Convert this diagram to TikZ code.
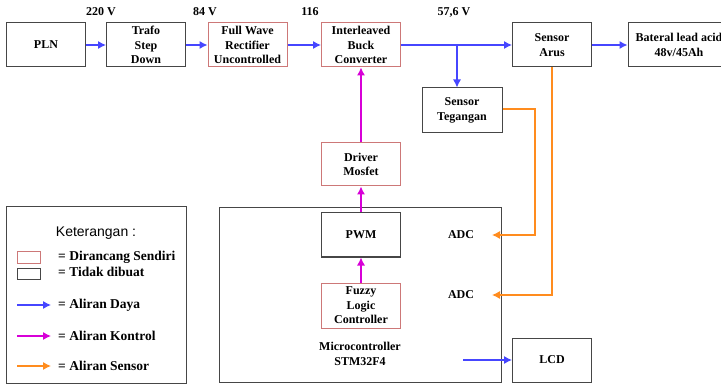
\documentclass[tikz,border=0pt]{standalone}
\usepackage{fontspec}
\setmainfont{Liberation Serif}
\newfontfamily\serifb{Liberation Serif}
\newfontfamily\legsans{Liberation Sans}
\usetikzlibrary{arrows.meta}
\definecolor{boxgray}{RGB}{70,70,70}
\definecolor{boxred}{RGB}{205,120,120}
\definecolor{flowblue}{RGB}{70,70,255}
\definecolor{flowmag}{RGB}{215,0,215}
\definecolor{flowor}{RGB}{255,140,30}
\tikzset{
  blk/.style={draw=boxgray, line width=1pt, minimum width=79pt, minimum height=44pt, inner sep=1pt, align=center, font=\serifb\fontsize{12}{14.5}\selectfont\bfseries},
  redblk/.style={blk, draw=boxred},
  lbl/.style={font=\serifb\fontsize{12}{14}\selectfont\bfseries, inner sep=0pt},
  leglbl/.style={font=\serifb\fontsize{13.5}{15}\selectfont\bfseries, inner sep=0pt, anchor=west},
  tipx/.style={-{Latex[length=8pt,width=8pt]}, line width=1.1pt},
  pow/.style={tipx, draw=flowblue},
  ctl/.style={tipx, draw=flowmag},
  sen/.style={tipx, draw=flowor},
}
\begin{document}
\begin{tikzpicture}[x=1pt,y=-1pt]
\useasboundingbox (0,0) rectangle (721,385);
% top row
\node[blk] (pln) at (46,45) {PLN};
\node[blk] (trafo) at (146,45) {Trafo\\Step\\Down};
\node[redblk] (fwr) at (247.5,45) {Full Wave\\Rectifier\\Uncontrolled};
\node[redblk] (buck) at (361,45) {Interleaved\\Buck\\Converter};
\node[blk] (arus) at (552,45) {Sensor\\Arus};
\node[blk, minimum width=102pt] (bat) at (679,45) {Bateral lead acid\\48v/45Ah};
\node[blk, minimum width=80pt, minimum height=45pt] (teg) at (462,110.5) {Sensor\\Tegangan};
% voltage labels
\node[lbl] (v1) at (101,12) {220 V};
\node[lbl] (v2) at (205,12) {84 V};
\node[lbl] (v3) at (310,12) {116};
\node[lbl] (v4) at (454,12) {57,6 V};
% control chain
\node[redblk, minimum height=43pt] (drv) at (361,164.5) {Driver\\Mosfet};
\node[blk, minimum width=282pt, minimum height=174pt] (mcu) at (360,295) {};
\node[blk] (pwm) at (361,235) {PWM};
\node[redblk, minimum height=45pt] (fuzzy) at (361,305.5) {Fuzzy\\Logic\\Controller};
\node[lbl, align=center, font=\serifb\fontsize{12}{14.5}\selectfont\bfseries] (mcutxt) at (360,354) {Microcontroller\\STM32F4};
\node[lbl] (adc1) at (461,235) {ADC};
\node[lbl] (adc2) at (461,295) {ADC};
\node[blk] (lcd) at (552,360) {LCD};
\coordinate (br) at (457,45);
\coordinate (in1) at (492,235);
\coordinate (in2) at (492,295);
\coordinate (lcdsrc) at (463,360);
% power flow
\draw[pow] (pln) -- (trafo);
\draw[pow] (trafo) -- (fwr);
\draw[pow] (fwr) -- (buck);
\draw[pow] (buck) -- (arus);
\draw[pow] (br) -- (br |- teg.north);
\draw[pow] (arus) -- (bat);
\draw[pow] (lcdsrc) -- (lcd.west);
% control flow
\draw[ctl] (fuzzy) -- (pwm);
\draw[ctl] (pwm) -- (drv);
\draw[ctl] (drv) -- (buck);
% sensor flow
\draw[sen] ([yshift=1.5pt]teg.east) -| (535,235) -- (in1);
\draw[sen] (arus.south) |- (in2);
% legend
\node[blk, minimum width=180pt, minimum height=176pt] (leg) at (96,295) {};
\node[font=\legsans\fontsize{14}{16}\selectfont, inner sep=0pt] (legt) at (96,233) {Keterangan :};
\node[draw=boxred, line width=1pt, minimum width=23pt, minimum height=11pt, inner sep=0pt] (lr) at (28.5,257.5) {};
\node[draw=boxgray, line width=1pt, minimum width=23pt, minimum height=11pt, inner sep=0pt] (lb) at (28.5,273.5) {};
\node[leglbl] (t1) at (58,257) {= Dirancang Sendiri};
\node[leglbl] (t2) at (58,272) {= Tidak dibuat};
\node[leglbl] (t3) at (58,305) {= Aliran Daya};
\node[leglbl] (t4) at (58,336) {= Aliran Kontrol};
\node[leglbl] (t5) at (58,366) {= Aliran Sensor};
\coordinate (a1) at (17,305); \coordinate (a1e) at (51,305);
\coordinate (a2) at (17,336); \coordinate (a2e) at (51,336);
\coordinate (a3) at (17,366); \coordinate (a3e) at (51,366);
\draw[pow] (a1) -- (a1e);
\draw[ctl] (a2) -- (a2e);
\draw[sen] (a3) -- (a3e);
\end{tikzpicture}
\end{document}
